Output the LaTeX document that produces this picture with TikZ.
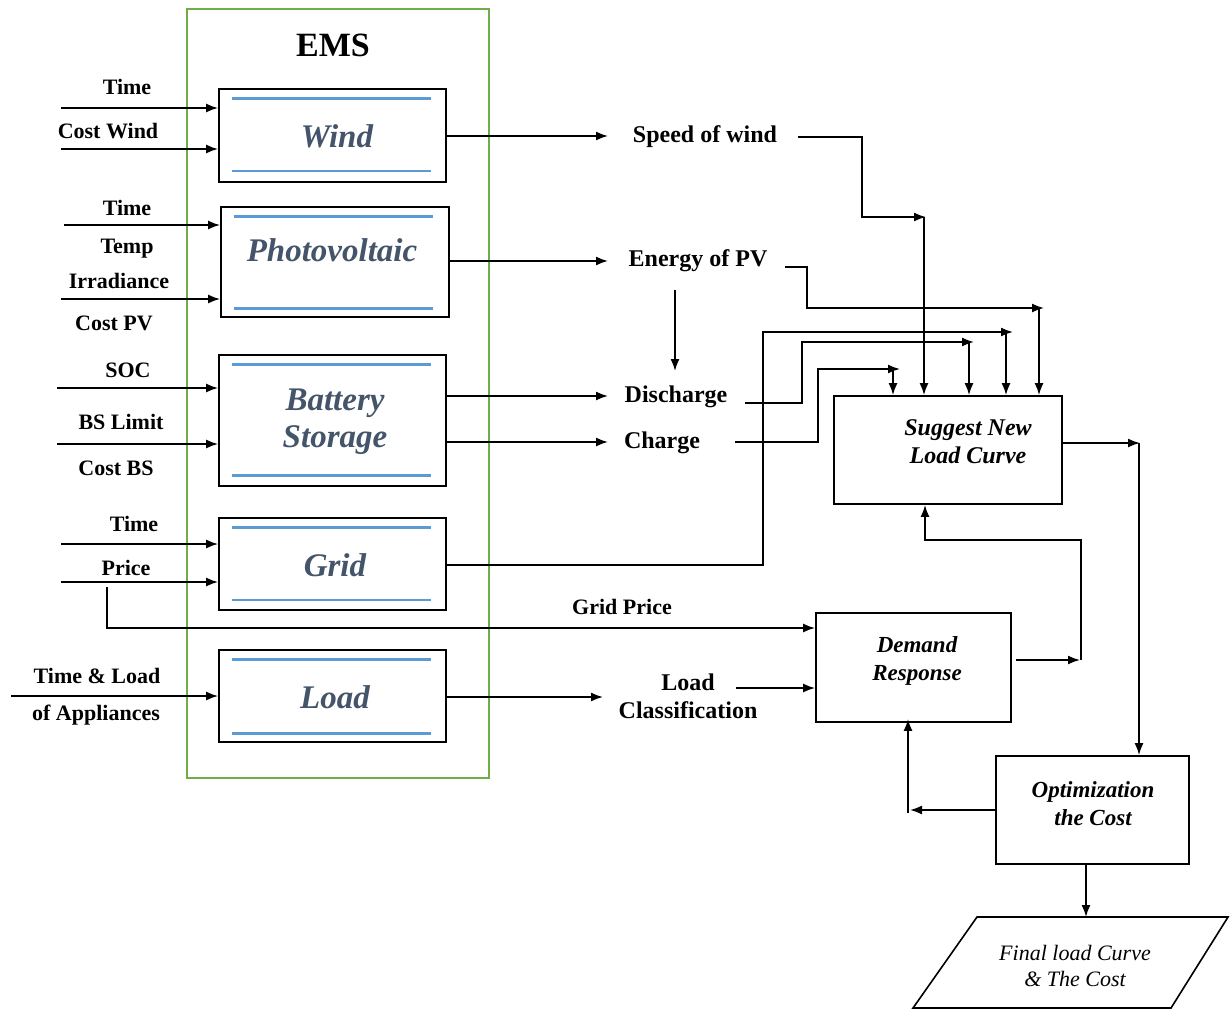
\documentclass[tikz,border=0pt]{standalone}
\usepackage{fontspec}
\setmainfont{Liberation Serif}
\usetikzlibrary{arrows.meta,calc}
\definecolor{emsgreen}{HTML}{70AD47}
\definecolor{bline}{HTML}{5B9BD5}
\definecolor{slate}{HTML}{44546A}
\tikzset{
  arr/.style={-{Latex[length=12pt,width=9pt]}, line width=1.7pt},
  blk/.style={draw, line width=1.8pt, inner sep=0pt},
  lab/.style={font=\fontsize{22}{26}\selectfont\bfseries, inner sep=0pt},
  mlab/.style={font=\fontsize{24}{28}\selectfont\bfseries, inner sep=0pt, align=center},
  btxt/.style={font=\fontsize{33}{38}\selectfont\bfseries\itshape, text=slate, inner sep=0pt, align=center},
  itxt/.style={font=\fontsize{23}{28}\selectfont\bfseries\itshape, inner sep=0pt, align=center},
  thickb/.style={bline, line width=3pt},
  thinb/.style={bline, line width=1.6pt}
}
\begin{document}
\begin{tikzpicture}[x=1pt,y=-1pt]
\useasboundingbox (0,0) rectangle (1230,1010);
% EMS frame
\draw[emsgreen, line width=1.5pt] (187,9) rectangle (489,778);
\node[font=\fontsize{34}{40}\selectfont\bfseries, inner sep=0pt] (ems) at (333,45) {EMS};

% blocks
\node[blk, minimum width=227pt, minimum height=93pt] (wind) at (332.5,135.5) {};
\node[blk, minimum width=228pt, minimum height=110pt] (pv) at (335,262) {};
\node[blk, minimum width=227pt, minimum height=131pt] (bat) at (332.5,420.5) {};
\node[blk, minimum width=227pt, minimum height=92pt] (grid) at (332.5,564) {};
\node[blk, minimum width=227pt, minimum height=92pt] (load) at (332.5,696) {};
\node[blk, minimum width=228pt, minimum height=108pt] (sug) at (948,450) {};
\node[blk, minimum width=195pt, minimum height=109pt] (dem) at (913.5,667.5) {};
\node[blk, minimum width=193pt, minimum height=108pt] (opt) at (1092.5,810) {};

% blue lines
\draw[thickb] (232,98) -- (431,98);  \draw[thinb] (232,171) -- (431,171);
\draw[thickb] (234,216) -- (433,216); \draw[thickb] (234,308) -- (433,308);
\draw[thickb] (232,364) -- (431,364); \draw[thickb] (232,475) -- (431,475);
\draw[thickb] (232,527) -- (431,527); \draw[thinb] (232,600) -- (431,600);
\draw[thickb] (232,659) -- (431,659); \draw[thickb] (232,733) -- (431,733);

% block texts
\node[btxt] (windt) at (337,136) {Wind};
\node[btxt] (pvt) at (332,250) {Photovoltaic};
\node[btxt] (batt) at (335,422) {Battery\\[-1pt]Storage};
\node[btxt] (gridt) at (335,565) {Grid};
\node[btxt] (loadt) at (335,697) {Load};
\node[itxt, font=\fontsize{24}{28}\selectfont\bfseries\itshape] (sugt) at (968,442) {Suggest New\\Load Curve};
\node[itxt] (demt) at (917,661) {Demand\\Response};
\node[itxt] (optt) at (1093,804) {Optimization\\the Cost};

% final parallelogram
\draw[line width=1.6pt] (977,917) -- (1228,917) -- (1171,1008) -- (913,1008) -- cycle;
\node[itxt, font=\fontsize{22}{26}\selectfont\itshape] (fin) at (1075,966) {Final load Curve\\\& The Cost};

% left labels
\node[lab] (t1) at (127,87) {Time};
\node[lab] (cw) at (108,131) {Cost Wind};
\node[lab] (t2) at (127,208) {Time};
\node[lab] (temp) at (127,249) {Temp};
\node[lab] (irr) at (119,281) {Irradiance};
\node[lab] (cpv) at (114,323) {Cost PV};
\node[lab] (soc) at (128,370) {SOC};
\node[lab] (bsl) at (121,422) {BS Limit};
\node[lab] (cbs) at (116,468) {Cost BS};
\node[lab] (t3) at (134,524) {Time};
\node[lab] (price) at (126,568) {Price};
\node[lab] (tl) at (97,676) {Time \& Load};
\node[lab] (oa) at (96,715) {of Appliances};

% middle labels
\node[mlab] (sow) at (705,137) {Speed of wind};
\node[mlab] (epv) at (698,261) {Energy of PV};
\node[mlab] (dis) at (676,397) {Discharge};
\node[mlab] (chg) at (662,443) {Charge};
\node[lab] (gp) at (622,607) {Grid Price};
\node[mlab] (lc) at (688,696) {Load\\Classification};

% input arrows
\coordinate (i1) at (61,108);  \draw[arr] (i1) -- (i1 -| wind.west);
\coordinate (i2) at (61,149);  \draw[arr] (i2) -- (i2 -| wind.west);
\coordinate (i3) at (64,225);  \draw[arr] (i3) -- (i3 -| pv.west);
\coordinate (i4) at (61,299);  \draw[arr] (i4) -- (i4 -| pv.west);
\coordinate (i5) at (57,388);  \draw[arr] (i5) -- (i5 -| bat.west);
\coordinate (i6) at (57,444);  \draw[arr] (i6) -- (i6 -| bat.west);
\coordinate (i7) at (61,544);  \draw[arr] (i7) -- (i7 -| grid.west);
\coordinate (i8) at (61,582);  \draw[arr] (i8) -- (i8 -| grid.west);
\coordinate (i9) at (11,696);  \draw[arr] (i9) -- (i9 -| load.west);

% price branch to demand response
\coordinate (pb0) at (107,587);
\coordinate (pb1) at (107,628);
\draw[arr] (pb0) -- (pb1) -- (pb1 -| dem.west);

% outputs of blocks
\coordinate (o1) at (608,136); \draw[arr] (wind.east |- o1) -- (o1);
\coordinate (o2) at (608,261); \draw[arr] (pv.east |- o2) -- (o2);
\coordinate (o3) at (608,396); \draw[arr] (bat.east |- o3) -- (o3);
\coordinate (o4) at (608,442); \draw[arr] (bat.east |- o4) -- (o4);
\coordinate (o5) at (603,697); \draw[arr] (load.east |- o5) -- (o5);

% PV energy to discharge
\coordinate (e1) at (675,290); \coordinate (e2) at (675,371);
\draw[arr] (e1) -- (e2);

% speed of wind to suggest
\coordinate (s0) at (798,137); \coordinate (s1) at (926,217);
\draw[arr] (s0) -- (862,137) -- (862,217) -- (s1);
\draw[arr] (924,217) -- (sug.north -| 924,0);

% energy of PV to suggest
\coordinate (p0) at (785,267); \coordinate (p1) at (1044,308);
\draw[arr] (p0) -- (807,267) -- (807,308) -- (p1);
\draw[arr] (1039,308) -- (sug.north -| 1039,0);

% grid to suggest
\coordinate (g1) at (1013,332);
\draw[arr] (grid.east |- 0,565) -- (763,565) -- (763,332) -- (g1);
\draw[arr] (1006,332) -- (sug.north -| 1006,0);

% discharge to suggest
\coordinate (d0) at (745,403); \coordinate (d1) at (974,342);
\draw[arr] (d0) -- (802,403) -- (802,342) -- (d1);
\draw[arr] (969,342) -- (sug.north -| 969,0);

% charge to suggest
\coordinate (c0) at (735,442); \coordinate (c1) at (900,369);
\draw[arr] (c0) -- (818,442) -- (818,369) -- (c1);
\draw[arr] (893,369) -- (sug.north -| 893,0);

% suggest to optimization
\coordinate (q1) at (1140,443);
\draw[arr] (sug.east |- q1) -- (q1);
\draw[arr] (1139,443) -- (opt.north -| 1139,0);

% load classification to demand
\coordinate (l0) at (736,688);
\draw[arr] (l0) -- (l0 -| dem.west);

% demand to suggest
\coordinate (r0) at (1016,660); \coordinate (r1) at (1080,660);
\draw[arr] (r0) -- (r1);
\draw[arr] (1081,660) -- (1081,540) -- (925,540) -- (sug.south -| 925,0);

% optimization back to demand
\coordinate (b1) at (910,810);
\draw[arr] (opt.west |- b1) -- (b1);
\draw[arr] (908,813) -- ([yshift=4pt]dem.south -| 908,0);

% optimization to final
\coordinate (f1) at (1086,917);
\draw[arr] (opt.south -| f1) -- (f1);
\end{tikzpicture}
\end{document}
